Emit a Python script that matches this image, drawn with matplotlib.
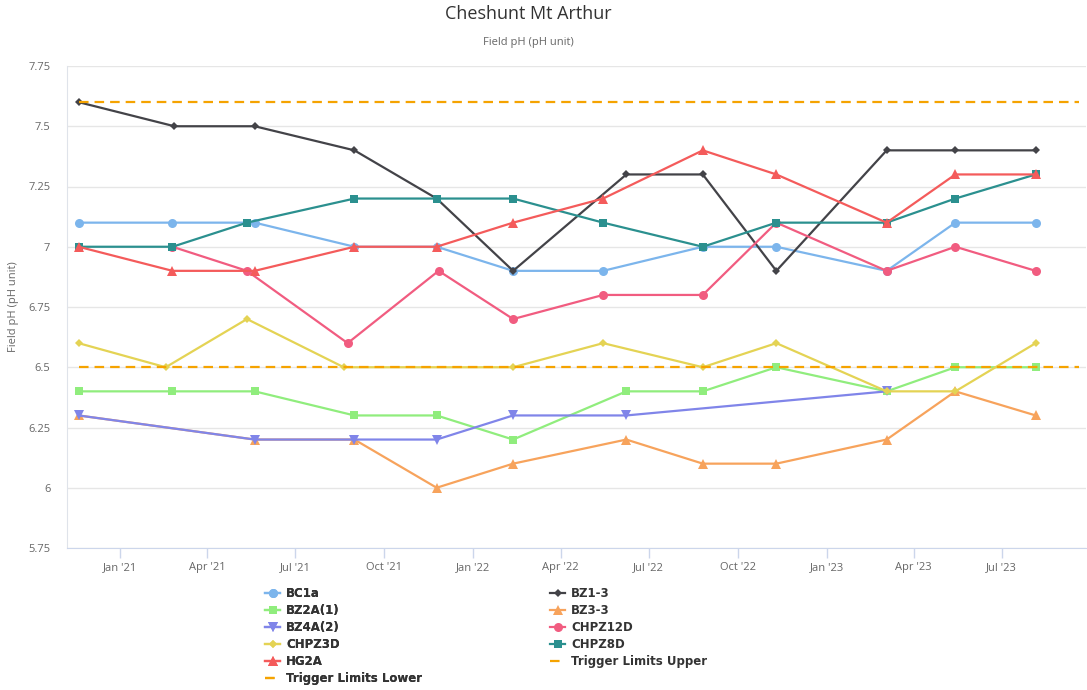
import pandas as pd
import matplotlib
matplotlib.use("Agg")
import matplotlib.pyplot as plt
import matplotlib.dates as mdates

# ------------------------
# Data (field pH per bore)
# ------------------------
bc1a_dates = ["2020-11-19", "2021-02-24", "2021-05-20", "2021-08-31", "2021-11-24", "2022-02-11",
              "2022-05-15", "2022-08-26", "2022-11-10", "2023-03-04", "2023-05-14", "2023-08-05"]
bc1a_ph = [7.1, 7.1, 7.1, 7.0, 7.0, 6.9, 6.9, 7.0, 7.0, 6.9, 7.1, 7.1]

bz13_dates = ["2020-11-19", "2021-02-26", "2021-05-20", "2021-08-31", "2021-11-24", "2022-02-11",
              "2022-06-08", "2022-08-26", "2022-11-10", "2023-03-04", "2023-05-14", "2023-08-05"]
bz13_ph = [7.6, 7.5, 7.5, 7.4, 7.2, 6.9, 7.3, 7.3, 6.9, 7.4, 7.4, 7.4]

bz2a_dates = ["2020-11-19", "2021-02-24", "2021-05-20", "2021-08-31", "2021-11-24", "2022-02-11",
              "2022-06-08", "2022-08-26", "2022-11-10", "2023-03-04", "2023-05-14", "2023-08-05"]
bz2a_ph = [6.4, 6.4, 6.4, 6.3, 6.3, 6.2, 6.4, 6.4, 6.5, 6.4, 6.5, 6.5]

bz33_dates = ["2020-11-19", "2021-05-20", "2021-08-31", "2021-11-24", "2022-02-11",
              "2022-06-08", "2022-08-26", "2022-11-10", "2023-03-04", "2023-05-14", "2023-08-05"]
bz33_ph = [6.3, 6.2, 6.2, 6.0, 6.1, 6.2, 6.1, 6.1, 6.2, 6.4, 6.3]

bz4a_dates = ["2020-11-19", "2021-05-20", "2021-08-31", "2021-11-24", "2022-02-11",
              "2022-06-08", "2023-03-04"]
bz4a_ph = [6.3, 6.2, 6.2, 6.2, 6.3, 6.3, 6.4]

chpz12d_dates = ["2021-02-24", "2021-05-12", "2021-08-24", "2021-11-26", "2022-02-11",
                 "2022-05-15", "2022-08-26", "2022-11-10", "2023-03-04", "2023-05-14", "2023-08-05"]
chpz12d_ph = [7.0, 6.9, 6.6, 6.9, 6.7, 6.8, 6.8, 7.1, 6.9, 7.0, 6.9]

chpz3d_dates = ["2020-11-19", "2021-02-17", "2021-05-12", "2021-08-20", "2022-02-11",
                "2022-05-15", "2022-08-26", "2022-11-10", "2023-03-04", "2023-05-14", "2023-08-05"]
chpz3d_ph = [6.6, 6.5, 6.7, 6.5, 6.5, 6.6, 6.5, 6.6, 6.4, 6.4, 6.6]

chpz8d_dates = ["2020-11-19", "2021-02-24", "2021-05-12", "2021-08-31", "2021-11-24", "2022-02-11",
                "2022-05-15", "2022-08-26", "2022-11-10", "2023-03-04", "2023-05-14", "2023-08-05"]
chpz8d_ph = [7.0, 7.0, 7.1, 7.2, 7.2, 7.2, 7.1, 7.0, 7.1, 7.1, 7.2, 7.3]

hg2a_dates = ["2020-11-19", "2021-02-24", "2021-05-20", "2021-08-31", "2021-11-24", "2022-02-11",
              "2022-05-15", "2022-08-26", "2022-11-10", "2023-03-04", "2023-05-14", "2023-08-05"]
hg2a_ph = [7.0, 6.9, 6.9, 7.0, 7.0, 7.1, 7.2, 7.4, 7.3, 7.1, 7.3, 7.3]

trigger_dates = ["2020-11-19", "2023-09-19"]
trigger_upper = [7.6, 7.6]
trigger_lower = [6.5, 6.5]

# name, dates, values, colour, marker, marker size
series = [
    ("BC1a", bc1a_dates, bc1a_ph, "#7cb5ec", "o", 6.5),
    ("BZ1-3", bz13_dates, bz13_ph, "#434348", "D", 4.5),
    ("BZ2A(1)", bz2a_dates, bz2a_ph, "#90ed7d", "s", 6),
    ("BZ3-3", bz33_dates, bz33_ph, "#f7a35c", "^", 6.5),
    ("BZ4A(2)", bz4a_dates, bz4a_ph, "#8085e9", "v", 6.5),
    ("CHPZ12D", chpz12d_dates, chpz12d_ph, "#f15c80", "o", 6.5),
    ("CHPZ3D", chpz3d_dates, chpz3d_ph, "#e4d354", "D", 4.5),
    ("CHPZ8D", chpz8d_dates, chpz8d_ph, "#2b908f", "s", 6),
    ("HG2A", hg2a_dates, hg2a_ph, "#f45b5b", "^", 6.5),
]

# ------------------------
# Plot
# ------------------------
plt.rcParams["font.family"] = ["Open Sans", "DejaVu Sans"]

fig = plt.figure(figsize=(10.87, 6.90), dpi=100)
ax = fig.add_axes([67 / 1087, 1 - 548 / 690, 1019 / 1087, 482 / 690])

handles = {}
for name, dates, vals, color, marker, ms in series:
    h, = ax.plot(pd.to_datetime(dates), vals, color=color, lw=1.6,
                 marker=marker, markersize=ms, markeredgewidth=0,
                 label=name, clip_on=False)
    handles[name] = h

trig_color = "#f5a300"
h_up, = ax.plot(pd.to_datetime(trigger_dates), trigger_upper, color=trig_color,
                lw=1.6, dashes=(4.3, 2.7), label="Trigger Limits Upper")
h_lo, = ax.plot(pd.to_datetime(trigger_dates), trigger_lower, color=trig_color,
                lw=1.6, dashes=(4.3, 2.7), label="Trigger Limits Lower")
handles["Trigger Limits Upper"] = h_up
handles["Trigger Limits Lower"] = h_lo

# axes styling
ax.set_ylim(5.75, 7.75)
ax.set_yticks([5.75 + 0.25 * i for i in range(9)])
ax.yaxis.set_major_formatter(plt.FuncFormatter(lambda v, p: f"{v:g}"))
ax.set_xlim(pd.Timestamp("2020-11-07"), pd.Timestamp("2023-09-26"))
ax.xaxis.set_major_locator(mdates.MonthLocator(bymonth=[1, 4, 7, 10]))
ax.xaxis.set_major_formatter(mdates.DateFormatter("%b '%y"))

ax.grid(axis="y", color="#e6e6e6", lw=1)
ax.set_axisbelow(True)
for side in ["top", "right"]:
    ax.spines[side].set_visible(False)
ax.spines["bottom"].set_color("#ccd6eb")
ax.spines["left"].set_color("#dfe3ea")
ax.tick_params(axis="y", length=0, pad=12, labelsize=8, labelcolor="#666666")
ax.tick_params(axis="x", length=7, color="#ccd6eb", width=1, pad=3,
               labelsize=8, labelcolor="#666666")

ax.set_ylabel("Field pH (pH unit)", fontsize=8, color="#666666")
ax.yaxis.set_label_coords(-48 / 1019, 0.5)

fig.text(528 / 1087, 1 - 14 / 690, "Cheshunt Mt Arthur", ha="center", va="center",
         fontsize=13, color="#333333")
fig.text(528 / 1087, 1 - 43 / 690, "Field pH (pH unit)", ha="center", va="center",
         fontsize=8, color="#666666")

# legend in two columns
left_col = ["BC1a", "BZ2A(1)", "BZ4A(2)", "CHPZ3D", "HG2A", "Trigger Limits Lower"]
right_col = ["BZ1-3", "BZ3-3", "CHPZ12D", "CHPZ8D", "Trigger Limits Upper"]
leg_kw = dict(loc="upper left", frameon=False, borderpad=0, borderaxespad=0,
              handlelength=1.3, handletextpad=0.5, labelspacing=0.34,
              prop={"weight": "bold", "size": 8.5, "family": "DejaVu Sans"},
              labelcolor="#333333", numpoints=1)
leg1 = fig.legend([handles[n] for n in left_col], left_col,
                  bbox_to_anchor=(265 / 1087, 1 - 587 / 690), **leg_kw)
fig.add_artist(leg1)
fig.legend([handles[n] for n in right_col], right_col,
           bbox_to_anchor=(550 / 1087, 1 - 587 / 690), **leg_kw)

fig.savefig("out.png", dpi=100)
